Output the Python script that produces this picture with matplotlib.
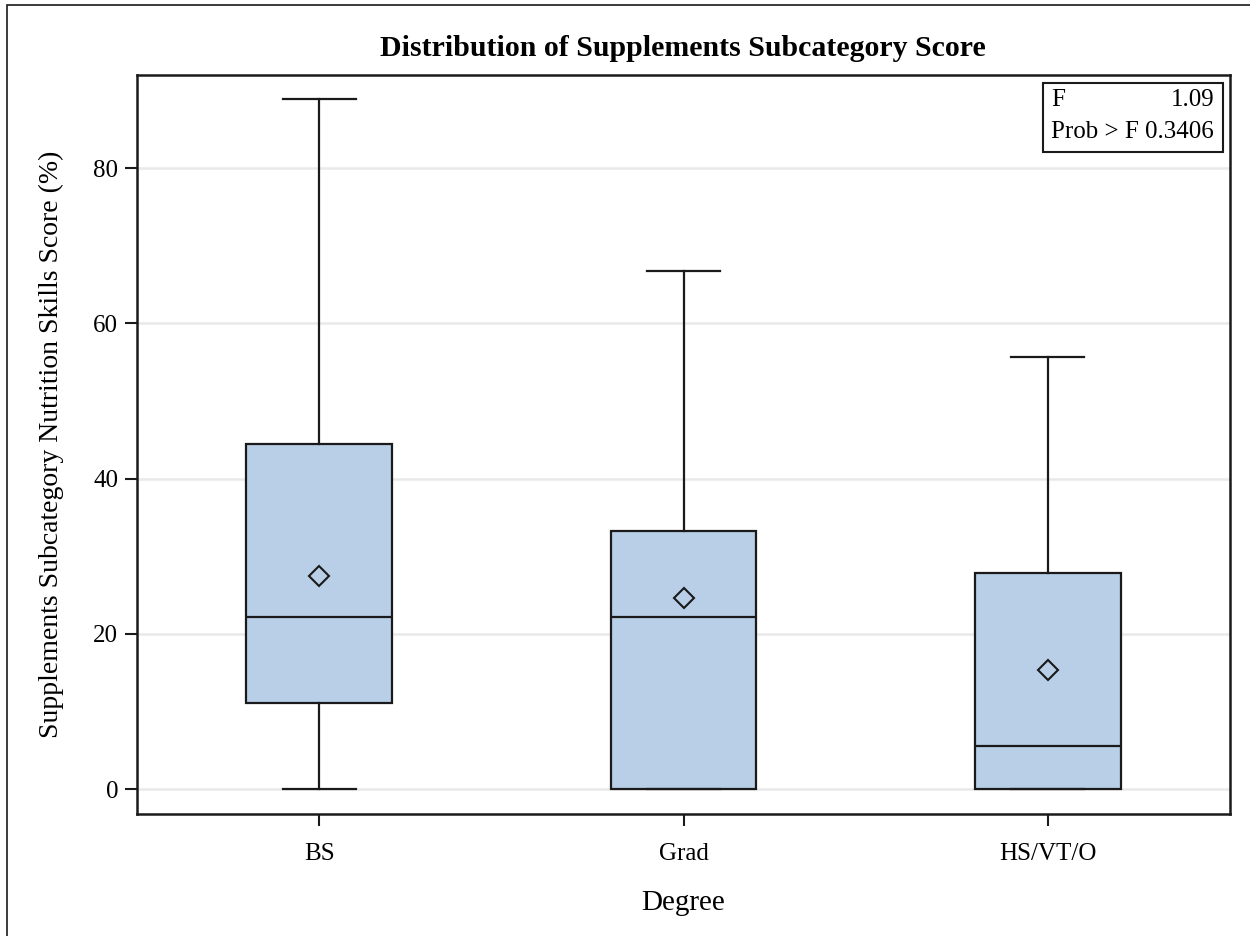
import matplotlib
matplotlib.use('Agg')
import matplotlib.pyplot as plt
from matplotlib.patches import Rectangle

# values
degrees = ['BS', 'Grad', 'HS/VT/O']
whislo = [0.0, 0.0, 0.0]
q1 = [11.1, 0.0, 0.0]
med = [22.2, 22.2, 5.6]
q3 = [44.4, 33.3, 27.8]
whishi = [88.9, 66.7, 55.6]
means = [27.5, 24.6, 15.3]
f_value = '1.09'
p_value = '0.3406'
yticks = [0, 20, 40, 60, 80]

plt.rcParams['font.family'] = ['Liberation Serif', 'DejaVu Serif']

fig = plt.figure(figsize=(12.5, 9.36), dpi=100)
ax = fig.add_axes([0.1096, 0.1303, 0.8744, 0.7897])

stats = []
for i, d in enumerate(degrees):
    stats.append({'label': d, 'whislo': whislo[i], 'q1': q1[i], 'med': med[i],
                  'q3': q3[i], 'whishi': whishi[i], 'mean': means[i], 'fliers': []})

pos = list(range(len(degrees)))
ax.bxp(stats, positions=pos, widths=0.4, patch_artist=True, showmeans=True,
       boxprops=dict(facecolor='#B9CFE7', edgecolor='#1a1a1a', linewidth=1.6),
       medianprops=dict(color='#1a1a1a', linewidth=1.6),
       whiskerprops=dict(color='#1a1a1a', linewidth=1.6),
       capprops=dict(color='#1a1a1a', linewidth=1.6),
       capwidths=0.2,
       meanprops=dict(marker='D', markersize=10.5, markerfacecolor='none',
                      markeredgecolor='#1a1a1a', markeredgewidth=1.5))

ax.set_xlim(-0.5, 2.5)
ax.set_ylim(-3.2, 92.0)
ax.set_yticks(yticks)
ax.set_xticks(pos)
ax.set_xticklabels(degrees)
ax.yaxis.grid(True, color='#e9e9e9', linewidth=1.8)
ax.set_axisbelow(True)
ax.tick_params(labelsize=18, length=8.5, width=1.5, color='#1a1a1a')
ax.tick_params(axis='x', pad=12)
ax.tick_params(axis='y', pad=5)
for s in ax.spines.values():
    s.set_linewidth(1.8)
    s.set_color('#1a1a1a')

ax.set_xlabel('Degree', fontsize=21, labelpad=18)
ax.set_ylabel('Supplements Subcategory Nutrition Skills Score (%)', fontsize=20, labelpad=21)
fig.text(0.5464, 0.948, 'Distribution of Supplements Subcategory Score',
         ha='center', va='center', fontsize=21.5, fontweight='bold')

# F statistics box
box = Rectangle((0.8344, 0.8376), 0.1440, 0.0737, transform=fig.transFigure,
                facecolor='white', edgecolor='#1a1a1a', linewidth=1.5)
fig.patches.append(box)
fig.text(0.8408, 0.8932, 'F', ha='left', va='center', fontsize=18)
fig.text(0.9712, 0.8932, f_value, ha='right', va='center', fontsize=18)
fig.text(0.8408, 0.8590, 'Prob > F', ha='left', va='center', fontsize=18)
fig.text(0.9712, 0.8590, p_value, ha='right', va='center', fontsize=18)

# outer frame of the graph
frame = Rectangle((0.0056, -0.05), 1.2, 1.0446, transform=fig.transFigure,
                  facecolor='none', edgecolor='#1a1a1a', linewidth=1.2)
fig.patches.append(frame)

fig.savefig('out.png', dpi=100)
